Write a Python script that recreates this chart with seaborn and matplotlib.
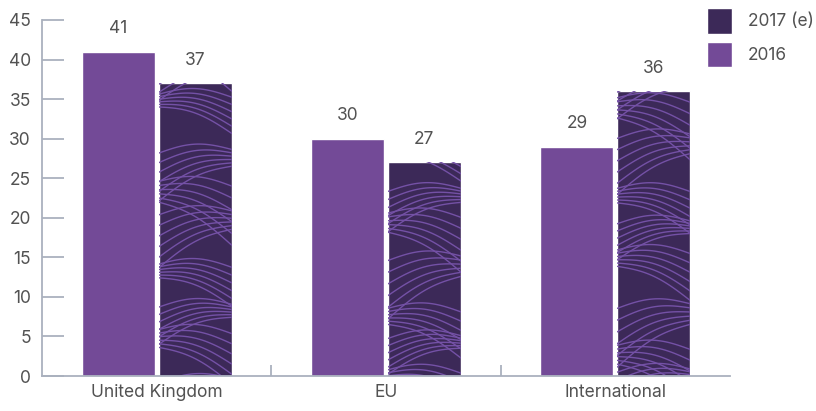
import numpy as np
import pandas as pd
import matplotlib
matplotlib.use("Agg")
import matplotlib.pyplot as plt
import seaborn as sns
from matplotlib.patches import Patch

regions = ["United Kingdom", "EU", "International"]
years = ["2016", "2017 (e)"]
values_2016 = [41, 30, 29]
values_2017 = [37, 27, 36]

df = pd.DataFrame({
    "region": regions * 2,
    "year": [years[0]] * 3 + [years[1]] * 3,
    "value": values_2016 + values_2017,
})

light_purple = "#734a97"
dark_purple = "#3c2958"
wave_color = "#7451a6"
axis_color = "#aab1be"
text_color = "#525252"

sns.set_theme(style="white")
plt.rcParams["font.family"] = ["Inter", "DejaVu Sans"]
fs = 12.5

fig = plt.figure(figsize=(8.16, 4.11), dpi=100)
ax = fig.add_axes([42 / 816, 35 / 411, 688 / 816, 356 / 411])

sns.barplot(data=df, x="region", y="value", hue="year", hue_order=years,
            palette=[light_purple, dark_purple], width=0.67, gap=0.05,
            saturation=1, legend=False, ax=ax)

# texture on the 2017 bars: overlapping fans of gently curved lines
for n, bar in enumerate(ax.containers[1]):
    x0, w, h = bar.get_x(), bar.get_width(), bar.get_height()
    xs = np.linspace(x0, x0 + w, 60)
    t = (xs - x0) / w
    band = 5.0
    for j in range(int(h / band) + 3):
        d = 1 if (j + n) % 2 == 0 else -1
        u = t if d == 1 else 1 - t
        apex = j * band + 1.2 * np.sin(j * 1.9 + n)
        gap = 1.2 + 0.3 * np.cos(j * 1.3 + n * 2)
        for i in range(6):
            ys = apex - (i + 0.6) * gap * (1 - 0.65 * u) + 0.9 * np.sin(np.pi * u)
            line, = ax.plot(xs, ys, color=wave_color, lw=1.0)
            line.set_clip_path(bar)

for container in ax.containers:
    ax.bar_label(container, fmt="%d", padding=10.5, fontsize=fs, color=text_color)

ax.set_xlim(-0.5, 2.5)
ax.set_ylim(0, 45)
ax.set_yticks(range(0, 46, 5))
ax.set_xlabel("")
ax.set_ylabel("")

sns.despine(ax=ax)
for side in ["left", "bottom"]:
    ax.spines[side].set_color(axis_color)
    ax.spines[side].set_linewidth(1.3)

ax.tick_params(axis="y", direction="in", length=16, width=1.3, color=axis_color,
               labelsize=fs, labelcolor=text_color, pad=8, left=True)
ax.tick_params(axis="x", length=0, labelsize=fs, labelcolor=text_color, pad=6)
ax.set_xticks([0.5, 1.5], minor=True)
ax.tick_params(axis="x", which="minor", direction="in", length=8, width=1.3,
               color=axis_color, bottom=True)

handles = [Patch(facecolor=dark_purple, label=years[1]),
           Patch(facecolor=light_purple, label=years[0])]
leg = fig.legend(handles=handles, loc="upper left",
                 bbox_to_anchor=(707 / 816, 1 - 8 / 411),
                 frameon=False, fontsize=fs, handlelength=1.44, handleheight=1.9,
                 labelspacing=0.45, handletextpad=0.92, borderpad=0, borderaxespad=0)
for t in leg.get_texts():
    t.set_color(text_color)

fig.savefig("out.png", dpi=100)
